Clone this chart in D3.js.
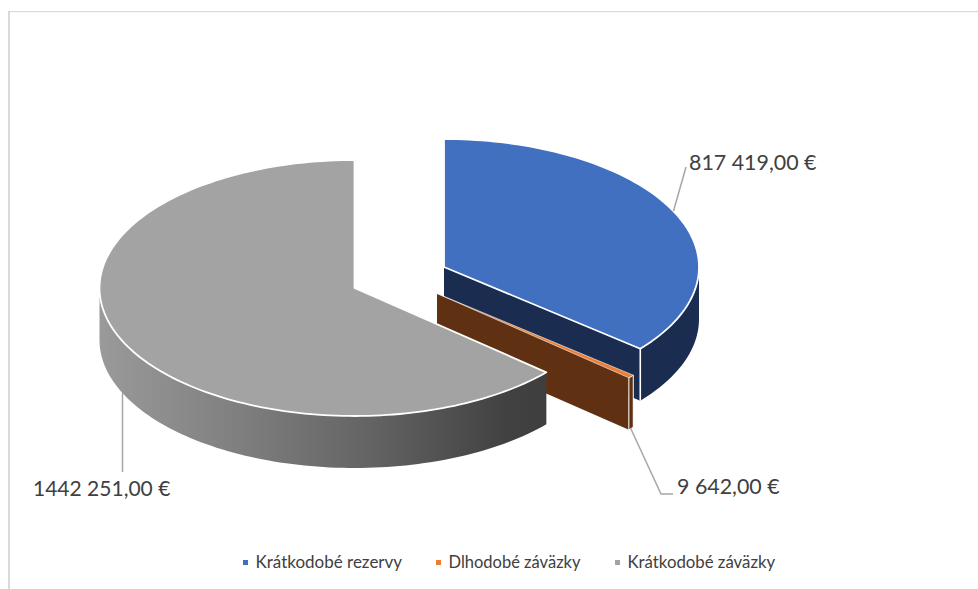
<!DOCTYPE html>
<html><head><meta charset="utf-8">
<script src="https://cdn.jsdelivr.net/npm/d3@7"></script>
<style>html,body{margin:0;padding:0;background:#fff;overflow:hidden}</style>
</head><body><svg id="c" width="978" height="589"></svg>
<script>
const categories = ["Krátkodobé rezervy", "Dlhodobé záväzky", "Krátkodobé záväzky"];
const values = [817419, 9642, 1442251];
const valueLabels = ["817 419,00 €", "9 642,00 €", "1442 251,00 €"];
const topColors = ["#4270c0", "#ed7d31", "#a3a3a3"];
const sideColors = ["#1a2c50", "#5f3112", "url(#grayWall)"];

const svg = d3.select("#c");
const font = "Lato, Carlito, 'Open Sans', sans-serif";
const RX = 255, RY = 128, DEPTH = 52;
const centers = [[444, 267], [437, 293.5], [354.5, 288]];

const defs = svg.append("defs");
const g = defs.append("linearGradient").attr("id", "grayWall")
  .attr("gradientUnits", "userSpaceOnUse").attr("x1", 99).attr("x2", 547).attr("y1", 0).attr("y2", 0);
[[0, "#9a9a9a"], [0.3, "#808080"], [0.6, "#646464"], [0.9, "#424242"], [1, "#3e3e3e"]].forEach(s =>
  g.append("stop").attr("offset", s[0]).attr("stop-color", s[1]));

// frame: top and left edges only
svg.append("rect").attr("x", 8).attr("y", 11).attr("width", 970).attr("height", 1.2).attr("fill", "#d9d9d9");
svg.append("rect").attr("x", 8).attr("y", 11).attr("width", 2).attr("height", 578).attr("fill", "#d9d9d9");

const arcs = d3.pie().sort(null)(values);
const pt = (c, a, dy = 0) => [c[0] + RX * Math.sin(a), c[1] - RY * Math.cos(a) + dy];
const curve = (c, a0, a1, dy = 0) => {
  const n = Math.max(2, Math.ceil(Math.abs(a1 - a0) * 40));
  return d3.range(n + 1).map(i => pt(c, a0 + (a1 - a0) * i / n, dy));
};
const line = d3.line();
const WHITE = "#ffffff";

arcs.forEach((d, i) => {
  const c = centers[i], a0 = d.startAngle, a1 = d.endAngle;
  const layer = svg.append("g").attr("class", "slice");
  if (i === 0 || i === 1) {
    const e = pt(c, a1);
    layer.append("path").attr("d", line([c, e, [e[0], e[1] + DEPTH], [c[0], c[1] + DEPTH]]) + "Z")
      .attr("fill", sideColors[i]);
  }
  const w0 = Math.max(a0, Math.PI / 2), w1 = Math.min(a1, Math.PI * 1.5);
  const top = curve(c, w0, w1), bot = curve(c, w1, w0, DEPTH);
  layer.append("path").attr("d", line(top.concat(bot)) + "Z").attr("fill", sideColors[i])
    .attr("stroke", i === 1 ? WHITE : "none").attr("stroke-width", 1);
  if (i === 0) {
    const e = pt(c, a1);
    layer.append("line").attr("x1", e[0]).attr("y1", e[1]).attr("x2", e[0]).attr("y2", e[1] + DEPTH)
      .attr("stroke", WHITE).attr("stroke-width", 1.6);
  }
  layer.append("path").attr("d", line([c].concat(curve(c, a0, a1))) + "Z")
    .attr("fill", topColors[i]).attr("stroke", WHITE).attr("stroke-width", i === 1 ? 0.6 : 1.8).attr("stroke-linejoin", "round");
});

// leader lines
const leaders = [
  [[673.5, 211], [686, 167]],
  [[630.5, 428], [661, 494], [673, 494]],
  [[122.5, 393], [122.5, 472]]
];
leaders.forEach(p => svg.append("path").attr("d", line(p)).attr("fill", "none").attr("stroke", "#a6a6a6").attr("stroke-width", 1.5));

// value labels
const labelPos = [[689, 170], [677, 494], [33, 496]];
const labelSize = [21.4, 21.4, 21];
valueLabels.forEach((t, i) => svg.append("text").attr("x", labelPos[i][0]).attr("y", labelPos[i][1])
  .attr("font-family", font).attr("font-size", labelSize[i]).attr("fill", "#404040").text(t));

// legend
const legendX = [243, 436, 615];
const legendSize = [17, 16.5, 16.8];
categories.forEach((t, i) => {
  svg.append("rect").attr("x", legendX[i]).attr("y", 560).attr("width", 5).attr("height", 5).attr("fill", topColors[i]);
  svg.append("text").attr("x", legendX[i] + 12.5).attr("y", 568).attr("font-family", font)
    .attr("font-size", legendSize[i]).attr("fill", "#404040").text(t);
});
</script></body></html>
